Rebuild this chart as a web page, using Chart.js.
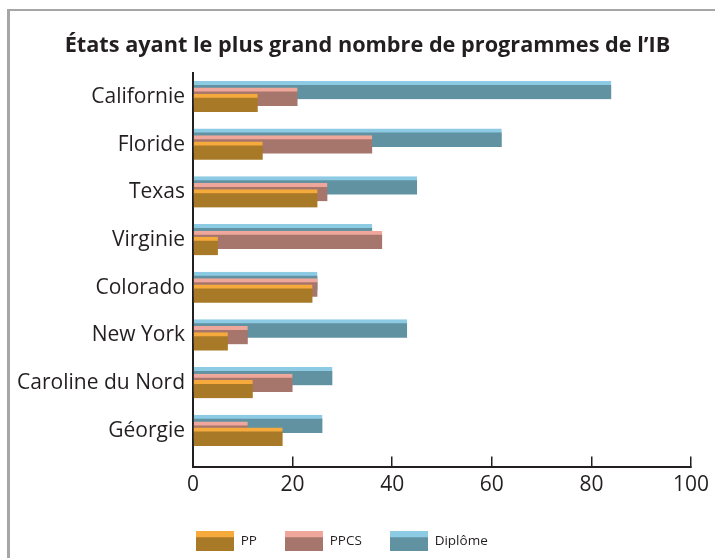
<!DOCTYPE html>
<html>
<head>
<meta charset="utf-8">
<script src="https://cdn.jsdelivr.net/npm/chart.js@4"></script>
<style>
  html, body { margin: 0; padding: 0; background: #ffffff; width: 715px; height: 558px; overflow: hidden; }
  #frame { position: absolute; left: 7px; top: 9px; width: 800px; height: 700px;
           border-left: 3px solid #a6a6a6; border-top: 2px solid #a6a6a6; }
  #c { position: absolute; left: 0; top: 0; }
</style>
</head>
<body>
<div id="frame"></div>
<canvas id="c" width="715" height="558"></canvas>
<script>
const title = "États ayant le plus grand nombre de programmes de l’IB";
const categories = ["Californie", "Floride", "Texas", "Virginie", "Colorado", "New York", "Caroline du Nord", "Géorgie"];
const seriesNames = ["PP", "PPCS", "Diplôme"];
const ppValues      = [13, 14, 25, 5, 24, 7, 12, 18];
const ppcsValues    = [21, 36, 27, 38, 25, 11, 20, 11];
const diplomeValues = [84, 62, 45, 36, 25, 43, 28, 26];
const xTicks = [0, 20, 40, 60, 80, 100];

const textColor = '#231f20';
const FONT = "'Open Sans', sans-serif";

// style per series: [light top strip, dark body]
const styles = [
  { light: '#f7aa3c', dark: '#a87a28' },
  { light: '#f0a79b', dark: '#a6766c' },
  { light: '#8dcae4', dark: '#6192a2' }
];
// vertical offsets (in category units) giving the overlapping look
const offsets = [0.13, 0, -0.14];

function legendImage(st) {
  const cv = document.createElement('canvas');
  cv.width = 38; cv.height = 20;
  const g = cv.getContext('2d');
  g.fillStyle = st.dark; g.fillRect(0, 0, 38, 20);
  g.fillStyle = st.light; g.fillRect(0, 0, 38, 6);
  return cv;
}
const legendImgs = styles.map(legendImage);

const allValues = [ppValues, ppcsValues, diplomeValues];
const datasets = allValues.map((vals, s) => ({
  label: seriesNames[s],
  data: vals.map((v, i) => ({ x: v, y: i + offsets[s] })),
  backgroundColor: styles[s].dark,
  borderColor: styles[s].light,
  borderWidth: { top: 4, left: 0, right: 0, bottom: 0 },
  borderSkipped: false,
  barThickness: 18,
  grouped: false
}));

const blockShift = {
  id: 'blockShift',
  afterLayout(chart) {
    if (chart.legend) { chart.legend.left -= 25; chart.legend.right -= 25; }
    if (chart.titleBlock) { chart.titleBlock.left += 22; chart.titleBlock.right += 22; }
  }
};

new Chart(document.getElementById('c'), {
  type: 'bar',
  data: { datasets },
  plugins: [blockShift],
  options: {
    indexAxis: 'y',
    responsive: false,
    animation: false,
    layout: { padding: { left: 0, right: 24, top: 0, bottom: 0 } },
    scales: {
      x: {
        type: 'linear', min: 0, max: 100, offset: false,
        afterBuildTicks: (sc) => { sc.ticks = xTicks.map(v => ({ value: v })); },
        afterFit: (sc) => { sc.height = 40; sc.paddingRight = 0; },
        grid: { drawOnChartArea: false, drawTicks: true, tickLength: -10, color: textColor, lineWidth: 1.5 },
        border: { display: true, color: textColor, width: 2 },
        ticks: { color: textColor, font: { family: FONT, size: 21 }, padding: 16 }
      },
      y: {
        type: 'linear', reverse: true, min: -0.5, max: 7.75, offset: false,
        z: 1,
        afterBuildTicks: (sc) => { sc.ticks = categories.map((_, i) => ({ value: i })); },
        afterFit: (sc) => { sc.width = 193; },
        grid: { display: false, drawTicks: false, offset: false },
        border: { display: true, color: textColor, width: 2 },
        ticks: { color: textColor, font: { family: FONT, size: 21 }, padding: 8,
                 callback: (v) => categories[v] }
      }
    },
    plugins: {
      title: {
        display: true, text: title, color: textColor,
        font: { family: FONT, size: 21.7, weight: 'bold' },
        padding: { top: 33, bottom: 14 }
      },
      legend: {
        display: true, position: 'bottom', align: 'start', fullSize: false,
        labels: {
          usePointStyle: true, pointStyleWidth: 38, boxHeight: 20,
          padding: 28, color: textColor,
          font: { family: FONT, size: 13.5 },
          generateLabels: (chart) => chart.data.datasets.map((ds, i) => ({
            text: ds.label, pointStyle: legendImgs[i], datasetIndex: i,
            fillStyle: styles[i].dark, strokeStyle: styles[i].dark, lineWidth: 0,
            hidden: false, fontColor: textColor
          }))
        }
      },
      tooltip: { enabled: false }
    }
  }
});
</script>
</body>
</html>
